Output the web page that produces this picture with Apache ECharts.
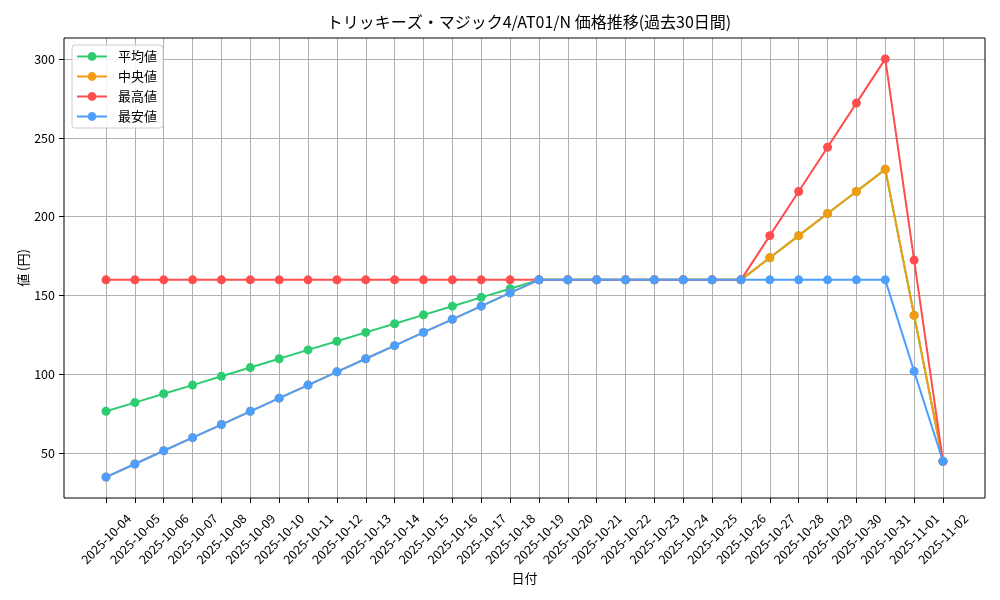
<!DOCTYPE html>
<html>
<head>
<meta charset="utf-8">
<script src="https://cdn.jsdelivr.net/npm/echarts@6/dist/echarts.min.js"></script>
<style>
html,body{margin:0;padding:0;background:#fff;}
#chart{width:1000px;height:600px;}
</style>
</head>
<body>
<div id="chart"></div>
<script>
const dates = ['2025-10-04','2025-10-05','2025-10-06','2025-10-07','2025-10-08','2025-10-09','2025-10-10','2025-10-11','2025-10-12','2025-10-13','2025-10-14','2025-10-15','2025-10-16','2025-10-17','2025-10-18','2025-10-19','2025-10-20','2025-10-21','2025-10-22','2025-10-23','2025-10-24','2025-10-25','2025-10-26','2025-10-27','2025-10-28','2025-10-29','2025-10-30','2025-10-31','2025-11-01','2025-11-02'];
const avgValues = [76.7,82.2,87.8,93.3,98.9,104.4,110,115.6,121.1,126.7,132.2,137.8,143.3,148.9,154.4,160,160,160,160,160,160,160,160,174,188,202,216,230,137.5,45];
const medianValues = [35,43.3,51.7,60,68.3,76.7,85,93.3,101.7,110,118.3,126.7,135,143.3,151.7,160,160,160,160,160,160,160,160,174,188,202,216,230,137.5,45];
const maxValues = [160,160,160,160,160,160,160,160,160,160,160,160,160,160,160,160,160,160,160,160,160,160,160,188,216,244,272,300,172.5,45];
const minValues = [35,43.3,51.7,60,68.3,76.7,85,93.3,101.7,110,118.3,126.7,135,143.3,151.7,160,160,160,160,160,160,160,160,160,160,160,160,160,102,45];
const yTicks = [50,100,150,200,250,300];
const seriesNames = ['平均値','中央値','最高値','最安値'];
const colors = ['#2ecc71','#f39c12','#ff4d4d','#4d9fff'];
const titleText = 'トリッキーズ・マジック4/AT01/N 価格推移(過去30日間)';

const FONT = '"Noto Sans CJK JP", "Noto Sans", sans-serif';
const yMin = 21.75, yMax = 313.25;
const chart = echarts.init(document.getElementById('chart'), null, {renderer:'canvas'});
const dataSets = [avgValues, medianValues, maxValues, minValues];

const option = {
  animation: false,
  textStyle: {fontFamily: FONT, color: '#000'},
  title: {
    text: titleText,
    left: 524, top: 9, textAlign: 'center',
    textStyle: {fontFamily: FONT, fontSize: 16, fontWeight: 'normal', color: '#000'}
  },
  legend: {
    orient: 'vertical', left: 72, top: 45,
    itemWidth: 30, itemHeight: 11, itemGap: 7,
    padding: [5, 6, 5, 4],
    borderColor: '#cccccc', borderWidth: 1, borderRadius: 3,
    backgroundColor: 'rgba(255,255,255,0.85)',
    textStyle: {fontFamily: FONT, fontSize: 13, color: '#000', padding: [0,0,0,6]},
    data: seriesNames
  },
  grid: [
    {left: 106, right: 57, top: 38, bottom: 102, containLabel: false},
    {left: 64, right: 15, top: 38, bottom: 102, show: true, borderColor: '#000', borderWidth: 1, backgroundColor: 'transparent', z: 5}
  ],
  xAxis: [
    {
      type: 'category', gridIndex: 0, data: dates, boundaryGap: false,
      name: '日付', nameLocation: 'middle', nameGap: 74, nameMoveOverlap: false,
      nameTextStyle: {fontFamily: FONT, fontSize: 13, color: '#000'},
      axisLine: {show: false},
      axisTick: {show: true, length: 5, interval: 0, lineStyle: {color: '#000'}},
      axisLabel: {interval: 0, rotate: 45, align: 'center', verticalAlign: 'middle', margin: 41, fontFamily: FONT, fontSize: 12.5, color: '#000'},
      splitLine: {show: true, interval: 0, lineStyle: {color: '#b0b0b0', width: 1}}
    },
    {type: 'value', gridIndex: 1, show: false}
  ],
  yAxis: [
    {type: 'value', gridIndex: 0, min: yMin, max: yMax, show: false, splitLine: {show: false}},
    {
      type: 'value', gridIndex: 1, min: yMin, max: yMax, minInterval: 50, maxInterval: 50,
      name: '値 (円)', nameLocation: 'middle', nameGap: 34, nameMoveOverlap: false,
      nameTextStyle: {fontFamily: FONT, fontSize: 13, color: '#000'},
      axisLine: {show: false},
      axisTick: {show: true, length: 5, lineStyle: {color: '#000'}, customValues: yTicks},
      axisLabel: {margin: 9, fontFamily: FONT, fontSize: 12.5, color: '#000', customValues: yTicks,
        formatter: v => (yTicks.indexOf(v) >= 0 ? String(v) : '')},
      splitLine: {show: true, lineStyle: {color: '#b0b0b0', width: 1}}
    }
  ],
  series: seriesNames.map((name, i) => ({
    name: name, type: 'line', xAxisIndex: 0, yAxisIndex: 0,
    data: dataSets[i],
    symbol: 'circle', symbolSize: 9, showAllSymbol: true,
    lineStyle: {color: colors[i], width: 2},
    itemStyle: {color: colors[i]},
    color: colors[i],
    z: 10 + i
  }))
};
chart.setOption(option);
</script>
</body>
</html>
